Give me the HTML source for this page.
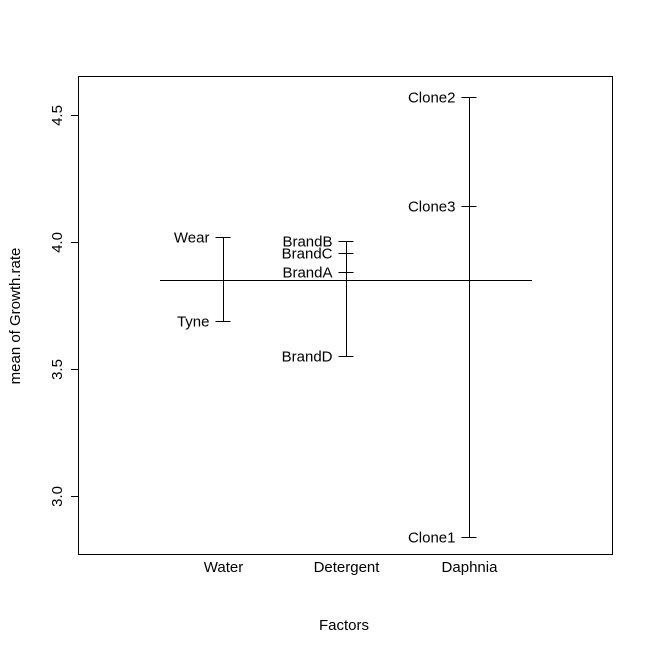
<!DOCTYPE html>
<html><head><meta charset="utf-8"><style>body{margin:0;background:#fff}svg{display:block}text{font-family:"Liberation Sans",sans-serif;font-size:15px;fill:#000}</style></head>
<body>
<svg id="c" width="653" height="653">
<rect x="0" y="0" width="653" height="653" fill="#fff"/>
<rect x="78.5" y="76.5" width="534" height="478" fill="none" stroke="#000"/>
<text x="344" y="630" text-anchor="middle">Factors</text>
<text transform="translate(20,316) rotate(-90)" text-anchor="middle">mean of Growth.rate</text>
</svg>
<script>
const factors = ["Water","Detergent","Daphnia"];
const levelLabels = [["Wear","Tyne"],["BrandB","BrandC","BrandA","BrandD"],["Clone2","Clone3","Clone1"]];
const levelMeans = [[4.02,3.69],[4.005,3.955,3.88,3.55],[4.57,4.14,2.84]];
const grandMean = 3.85;
const yTicks = [3.0,3.5,4.0,4.5];
const yTickLabels = ["3.0","3.5","4.0","4.5"];
const svg = document.getElementById('c');
const NS = 'http://www.w3.org/2000/svg';
const y = v => 242 - (v - 4) * 254;
const x = i => 222.5 + i * 123;
function el(tag, attrs, txt){const e=document.createElementNS(NS,tag);for(const k in attrs)e.setAttribute(k,attrs[k]);if(txt!==undefined)e.textContent=txt;svg.appendChild(e);return e;}
yTicks.forEach((t,i)=>{
  const yy=Math.round(y(t))+0.5;
  const l=el('line',{x1:71,x2:78,y1:yy,y2:yy,stroke:'#000'});
  
  
  const tx=el('text',{transform:`translate(62,${yy}) rotate(-90)`,'text-anchor':'middle'},yTickLabels[i]);
  
  
});
const ax=el('line',{x1:78.5,x2:78.5,y1:Math.round(y(4.5))+0.5,y2:Math.round(y(3.0))+0.5,stroke:'#000'});


const gm=Math.round(y(grandMean))+0.5;
const g=el('line',{x1:160,x2:532,y1:gm,y2:gm,stroke:'#000'});


factors.forEach((f,i)=>{
  const xx=Math.round(x(i))+0.5;
  const lab=el('text',{x:xx,y:572,'text-anchor':'middle'},f);
  
  
  const vals=levelMeans[i];
  const mx=Math.max(...vals), mn=Math.min(...vals);
  const v=el('line',{x1:xx,x2:xx,y1:Math.round(y(mx))+0.5,y2:Math.round(y(mn))+0.5,stroke:'#000'});
  
  
  vals.forEach((m,j)=>{
    const yy=Math.round(y(m))+0.5;
    const t=el('line',{x1:xx-8,x2:xx+7,y1:yy,y2:yy,stroke:'#000'});
    
    
    const tl=el('text',{x:xx-14,y:yy+5,'text-anchor':'end'},levelLabels[i][j]);
    
    
  });
});
</script>
</body></html>
